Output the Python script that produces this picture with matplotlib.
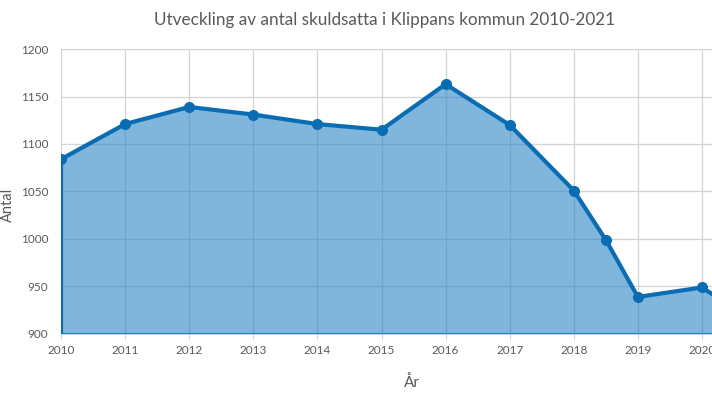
import matplotlib.pyplot as plt

# Data
years = [2010, 2011, 2012, 2013, 2014, 2015, 2016, 2017, 2018, 2018.5, 2019, 2020, 2021]
antal = [1084, 1121, 1139, 1131, 1121, 1115, 1163, 1120, 1051, 999, 939, 949, 905]
y_ticks = [900, 950, 1000, 1050, 1100, 1150, 1200]
x_ticks = list(range(2010, 2021))

plt.rcParams['font.family'] = ['Lato', 'DejaVu Sans']
text_color = '#595959'
line_color = '#0a6db3'

fig = plt.figure(figsize=(7.12, 4.0), dpi=100)
ax = fig.add_axes([61 / 712, 66 / 400, 651 / 712, 285 / 400])

ax.set_xlim(2010, 2010 + 651 / 64.1)
ax.set_ylim(900, 1200)
ax.set_xticks(x_ticks)
ax.set_yticks(y_ticks)
ax.grid(True, color='#d3d3d3', linewidth=0.9)
ax.set_axisbelow(True)

ax.fill_between(years, antal, 900, color='#2b84c6', alpha=0.6, linewidth=0, zorder=2)
ax.plot(years, antal, color=line_color, linewidth=3, marker='o', markersize=7,
        solid_joinstyle='round', zorder=4, clip_on=True)
# kant vid vänster sida och botten
ax.plot([years[0], years[0]], [900, antal[0]], color=line_color, linewidth=3, zorder=3)
ax.axhline(900, color=line_color, linewidth=1.8, zorder=3)

for side in ['top', 'right', 'left', 'bottom']:
    ax.spines[side].set_visible(False)

ax.tick_params(axis='y', length=0, pad=9, labelsize=8.5, labelcolor=text_color)
ax.tick_params(axis='x', length=4, color='#d3d3d3', pad=4, labelsize=8.5, labelcolor=text_color)

fig.text(385 / 712, 1 - 20 / 400, 'Utveckling av antal skuldsatta i Klippans kommun 2010-2021',
         ha='center', va='center', fontsize=12.3, color=text_color)
fig.text(8 / 712, 1 - 205 / 400, 'Antal', rotation=90, ha='center', va='center',
         fontsize=10.5, color=text_color)
fig.text(412 / 712, 1 - 383 / 400, 'År', ha='center', va='center', fontsize=11, color=text_color)

fig.savefig('out.png', dpi=100)
